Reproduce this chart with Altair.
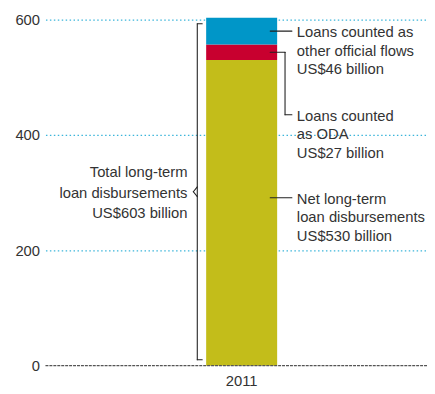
import altair as alt
import pandas as pd

# ---- data ----
years = ["2011"]
segments = ["Net long-term loan disbursements", "Loans counted as ODA",
            "Loans counted as other official flows"]
values = [530, 27, 46]
colors = ["#C3BD1A", "#C8002F", "#0096C8"]
y_ticks = [0, 200, 400, 600]

label_lines = [
    ["Net long-term", "loan disbursements", "US$530 billion"],
    ["Loans counted", "as ODA", "US$27 billion"],
    ["Loans counted as", "other official flows", "US$46 billion"],
]
total_lines = ["Total long-term", "loan disbursements", "US$603 billion"]

FONT = "Liberation Sans"
TXT = "#333333"
FS = 15

total = sum(values)
bottoms = [sum(values[:i]) for i in range(len(values))]
mids = [b + v / 2 for b, v in zip(bottoms, values)]

df = pd.DataFrame({
    "year": years * len(values),
    "segment": segments,
    "value": values,
    "order": list(range(len(values))),
})

W, H = 387, 351

bars = alt.Chart(df).mark_bar(size=72, xOffset=5.5).encode(
    x=alt.X("year:N",
            scale=alt.Scale(paddingInner=0, paddingOuter=0),
            axis=alt.Axis(title=None, labelAngle=0, ticks=False, domain=False,
                          labelFont=FONT, labelFontSize=FS, labelColor=TXT,
                          labelPadding=8, labelOffset=5.5)),
    y=alt.Y("value:Q", stack="zero",
            scale=alt.Scale(domain=[0, 600], nice=False),
            axis=alt.Axis(title=None, values=y_ticks, ticks=False, domain=False,
                          labelFont=FONT, labelFontSize=FS, labelColor=TXT,
                          labelPadding=6,
                          gridColor={"condition": {"test": "datum.value === 0",
                                                   "value": "transparent"},
                                     "value": "#3BB5DA"},
                          gridDash=[1.5, 2.5], gridWidth=1.3)),
    color=alt.Color("segment:N", scale=alt.Scale(domain=segments, range=colors),
                    legend=None),
    order=alt.Order("order:Q"),
)

zero = alt.Chart(pd.DataFrame({"z": [0]})).mark_rule(
    color="#555555", strokeWidth=1.2, strokeDash=[3, 1]).encode(
    x=alt.value(0), x2=alt.value(W), y=alt.Y("z:Q"))

X0 = 46  # page x of plot left


def rule(x1, x2, y1, y2, yoff=0, y2off=0):
    d = pd.DataFrame({"a": [y1], "b": [y2]})
    return alt.Chart(d).mark_rule(color="#222222", strokeWidth=1.1, strokeCap="round",
                                  yOffset=yoff, y2Offset=y2off).encode(
        x=alt.value(x1 - X0), x2=alt.value(x2 - X0),
        y=alt.Y("a:Q"), y2=alt.Y2("b:Q"))


blue_mid, red_mid, yel_anchor = mids[2], mids[1], 291
red_anchor = 435
leaders = [
    rule(274, 296, blue_mid, blue_mid),
    rule(274, 289, red_mid, red_mid),
    rule(289, 289, red_mid, red_anchor),
    rule(289, 296, red_anchor, red_anchor),
    rule(274, 296, yel_anchor, yel_anchor),
]

mid = total / 2
brace = [
    rule(200, 200, total, 0, 6, -6),
    rule(200, 205, total, total, 6, 6),
    rule(200, 205, 0, 0, -6, -6),
    rule(200, 196, mid, mid, -5, 0),
    rule(200, 196, mid, mid, 5, 0),
]

lab_df = pd.DataFrame({"lines": label_lines,
                       "ypos": [yel_anchor, red_anchor, blue_mid]})
labels = alt.Chart(lab_df).mark_text(align="left", baseline="top", dy=-6,
                                     lineHeight=19, font=FONT, fontSize=FS,
                                     color=TXT).encode(
    x=alt.value(301 - X0), y=alt.Y("ypos:Q"), text="lines")

tot_df = pd.DataFrame({"lines": [total_lines], "ypos": [mid]})
tot_label = alt.Chart(tot_df).mark_text(align="right", baseline="top", dy=-6 - 21,
                                        lineHeight=21, font=FONT, fontSize=FS,
                                        color=TXT).encode(
    x=alt.value(190 - X0), y=alt.Y("ypos:Q"), text="lines")

chart = alt.layer(bars, zero, *leaders, *brace, labels, tot_label).properties(
    width=W, height=H,
    autosize=alt.AutoSizeParams(type="none"),
    padding={"left": 38, "top": 9, "right": 0, "bottom": 24},
).configure_view(stroke=None)

chart.save("out.html", embed_options={"renderer": "svg", "actions": False})
